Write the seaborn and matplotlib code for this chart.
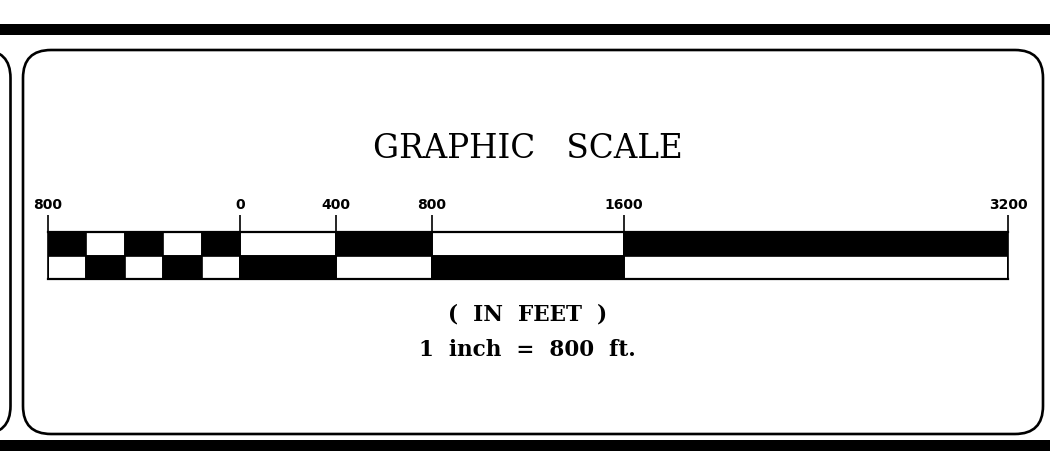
import matplotlib
matplotlib.use("Agg")
import matplotlib.pyplot as plt
from matplotlib.patches import Rectangle, FancyBboxPatch
import seaborn as sns

# ---- data ----
segment_edges = [-800, -640, -480, -320, -160, 0, 400, 800, 1600, 3200]
top_fill = [1, 0, 1, 0, 1, 0, 1, 0, 1]      # 1 = black, 0 = white
bottom_fill = [0, 1, 0, 1, 0, 1, 0, 1, 0]
tick_values = [-800, 0, 400, 800, 1600, 3200]
tick_labels = ["800", "0", "400", "800", "1600", "3200"]
title_text = "GRAPHIC   SCALE"
units_text = "(  IN  FEET  )"
ratio_text = "1  inch  =  800  ft."

sns.set_theme(style="white")
plt.rcParams["font.family"] = ["DejaVu Sans"]

W, H = 1050, 462
fig = plt.figure(figsize=(W / 100, H / 100), dpi=100)
fig.patch.set_facecolor("white")

# ---- decorative frame (pixel coordinates) ----
bg = fig.add_axes([0, 0, 1, 1], zorder=0)
bg.set_xlim(0, W)
bg.set_ylim(H, 0)
bg.axis("off")
bg.add_patch(Rectangle((0, 24), W, 11, color="black", lw=0))
bg.add_patch(Rectangle((0, 440), W, 11, color="black", lw=0))
bg.add_patch(FancyBboxPatch((23, 50), 1020, 384,
                            boxstyle="round,pad=0,rounding_size=28",
                            fc="none", ec="black", lw=1.9))
bg.add_patch(FancyBboxPatch((-300, 50), 310.5, 384,
                            boxstyle="round,pad=0,rounding_size=28",
                            fc="none", ec="black", lw=1.9))

bg.text(528, 158, title_text, ha="center", va="baseline",
        family="DejaVu Serif", fontsize=23.5, color="black")
bg.text(528, 321, units_text, ha="center", va="baseline",
        family="DejaVu Serif", fontweight="bold", fontsize=15.5, color="black")
bg.text(527, 356, ratio_text, ha="center", va="baseline",
        family="DejaVu Serif", fontweight="bold", fontsize=15.5, color="black")

# ---- scale bar ----
ax = fig.add_axes([48 / W, (H - 279) / H, 960 / W, 47 / H], zorder=1)
ax.set_xlim(segment_edges[0], segment_edges[-1])
ax.set_ylim(0, 2)
lefts = segment_edges[:-1]
widths = [b - a for a, b in zip(segment_edges[:-1], segment_edges[1:])]
ax.barh([1.5] * len(lefts), widths, left=lefts, height=1,
        color=["black" if f else "white" for f in top_fill],
        edgecolor="black", linewidth=1.2, align="center")
ax.barh([0.5] * len(lefts), widths, left=lefts, height=1,
        color=["black" if f else "white" for f in bottom_fill],
        edgecolor="black", linewidth=1.2, align="center")
for x in tick_values:
    ax.axvline(x, color="black", lw=1.3)
for s in ax.spines.values():
    s.set_visible(True)
    s.set_color("black")
    s.set_linewidth(1.6)
ax.spines["left"].set_linewidth(1.2)
ax.spines["right"].set_linewidth(1.2)
ax.set_yticks([])
ax.set_xticks(tick_values)
ax.set_xticklabels(tick_labels)
ax.tick_params(axis="x", which="both", bottom=False, top=True,
               labelbottom=False, labeltop=True, direction="out",
               length=12.2, width=1.2, color="black", pad=2)
for lab in ax.get_xticklabels():
    lab.set_fontweight("bold")
    lab.set_fontsize(10)
    lab.set_color("black")

fig.savefig("out.png", dpi=100, facecolor="white")
